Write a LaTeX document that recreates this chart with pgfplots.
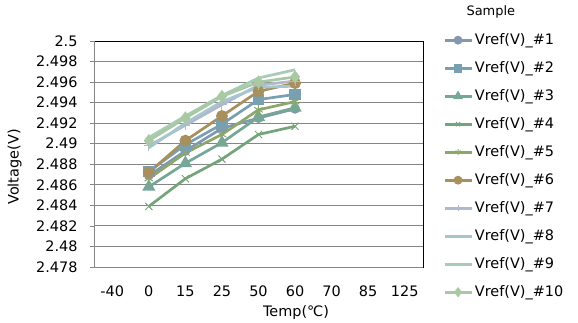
\documentclass[border=0pt]{standalone}
\usepackage{pgfplots}
\pgfplotsset{compat=1.18}
\usepackage{fontspec}
\setmainfont{DejaVu Sans}
\definecolor{gridgray}{HTML}{868686}
\definecolor{cA}{HTML}{8497B0}
\definecolor{cB}{HTML}{78A0B0}
\definecolor{cC}{HTML}{76A695}
\definecolor{cD}{HTML}{76A47A}
\definecolor{cE}{HTML}{8AA86A}
\definecolor{cF}{HTML}{A8905E}
\definecolor{cG}{HTML}{AFB8CC}
\definecolor{cH}{HTML}{A6C6CE}
\definecolor{cI}{HTML}{A6CBB6}
\definecolor{cJ}{HTML}{A9C9A4}
\pgfplotsset{
  legend image code/.code={\draw[mark repeat=2,mark phase=2,#1] plot coordinates {(0bp,0bp)(13.5bp,0bp)(27bp,0bp)};}
}
\begin{document}
\begin{tikzpicture}[font=\fontsize{14.5}{17}\selectfont]
\begin{axis}[
  set layers,
  at={(94bp,56bp)}, anchor=south west,
  scale only axis, width=329bp, height=226bp,
  xmin=-0.5, xmax=8.5, ymin=2.478, ymax=2.5,
  xtick={0,...,8}, xticklabels={-40,0,15,25,50,60,70,85,125},
  ytick={2.478,2.48,2.482,2.484,2.486,2.488,2.49,2.492,2.494,2.496,2.498,2.5},
  /pgf/number format/assume math mode=true,
  /pgf/number format/fixed,
  /pgf/number format/precision=3,
  x tick style={draw=none},
  y tick style={gridgray, line width=0.8bp},
  ytick pos=left,
  tick align=outside,
  major tick length=4bp,
  xticklabel style={yshift=-11bp},
  yticklabel style={xshift=-9bp},
  ymajorgrids,
  grid style={gridgray, line width=0.9bp},
  axis line style={black, line width=0.9bp},
  xlabel={Temp(℃)},
  ylabel={Voltage(V)},
  xlabel style={at={(axis description cs:0.614,-0.2)}, anchor=center},
  ylabel style={at={(axis description cs:-0.2416,0.4425)}, anchor=center},
  every axis plot/.append style={line width=2.7bp},
  legend image post style={mark size=3bp},
  legend cell align=left,
  legend style={at={(axis description cs:1.0608,1.0354)}, anchor=north west,
    draw=none, fill=none, inner sep=0pt, row sep=14bp, column sep=2bp,
    nodes={inner sep=0pt, text height=11bp, text depth=3bp},
    font=\fontsize{14.5}{17}\selectfont},
]
\addplot[cA, mark=*, mark size=3.5bp] coordinates {(1,2.4869)(2,2.4893)(3,2.4915)(4,2.4925)(5,2.4934)};
\addlegendentry{Vref(V)\_\#1}
\addplot[cB, mark=square*, mark size=4.5bp] coordinates {(1,2.4873)(2,2.4899)(3,2.4919)(4,2.4943)(5,2.4948)};
\addlegendentry{Vref(V)\_\#2}
\addplot[cC, mark=triangle*, mark size=5bp] coordinates {(1,2.4858)(2,2.4881)(3,2.4901)(4,2.4926)(5,2.4935)};
\addlegendentry{Vref(V)\_\#3}
\addplot[cD, mark=x, mark size=5bp, mark options={line width=1bp}] coordinates {(1,2.4839)(2,2.4866)(3,2.4885)(4,2.4909)(5,2.4917)};
\addlegendentry{Vref(V)\_\#4}
\addplot[cE, mark=asterisk, mark size=5bp, mark options={line width=1bp}] coordinates {(1,2.4866)(2,2.4891)(3,2.4909)(4,2.4933)(5,2.4941)};
\addlegendentry{Vref(V)\_\#5}
\addplot[cF, mark=*, mark size=4.5bp] coordinates {(1,2.4872)(2,2.4903)(3,2.4927)(4,2.4951)(5,2.4959)};
\addlegendentry{Vref(V)\_\#6}
\addplot[cG, mark=+, mark size=5bp, mark options={line width=1bp}] coordinates {(1,2.4898)(2,2.4918)(3,2.4938)(4,2.4957)(5,2.4961)};
\addlegendentry{Vref(V)\_\#7}
\addplot[cH, no marks] coordinates {(1,2.4896)(2,2.4920)(3,2.4941)(4,2.4955)(5,2.4956)};
\addlegendentry{Vref(V)\_\#8}
\addplot[cI, no marks] coordinates {(1,2.4906)(2,2.4927)(3,2.4947)(4,2.4964)(5,2.4972)};
\addlegendentry{Vref(V)\_\#9}
\addplot[cJ, mark=diamond*, mark size=4.5bp] coordinates {(1,2.4903)(2,2.4925)(3,2.4946)(4,2.4960)(5,2.4965)};
\addlegendentry{Vref(V)\_\#10}
\begin{pgfonlayer}{axis foreground}
\draw[gridgray, line width=0.9bp] (rel axis cs:0,1) -- (rel axis cs:0,0) -- (rel axis cs:1,0);
\end{pgfonlayer}
\end{axis}
\node[anchor=west, font=\fontsize{13}{15}\selectfont] at (463bp,311bp) {Sample};
\path (0,0) rectangle (578bp,323bp);
\end{tikzpicture}
\end{document}
